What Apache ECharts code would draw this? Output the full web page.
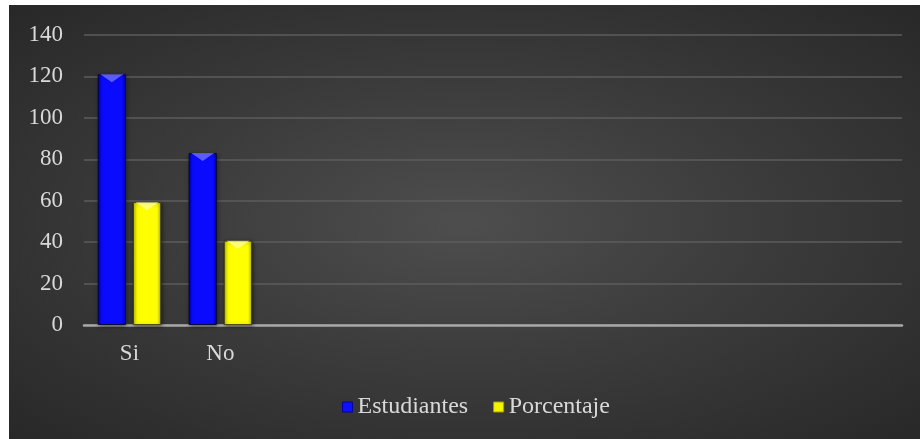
<!DOCTYPE html>
<html>
<head>
<meta charset="utf-8">
<script src="https://cdn.jsdelivr.net/npm/echarts@6/dist/echarts.min.js"></script>
<style>
  html, body { margin: 0; padding: 0; background: #ffffff; }
  #frame {
    position: absolute; left: 9px; top: 5px; width: 911px; height: 434px;
    background: radial-gradient(ellipse farthest-corner at 50% 50%, #4e4e4e 0%, #3c3c3c 45%, #282828 100%);
  }
  #chart { width: 911px; height: 434px; }
</style>
</head>
<body>
<div id="frame"><div id="chart"></div></div>
<script>
// Survey answers: number of students and share in percent
const categories = ['Si', 'No', '', '', '', '', '', '', ''];
const estudiantes = [121, 83, null, null, null, null, null, null, null];
const porcentaje = [59.3, 40.7, null, null, null, null, null, null, null];
const yTicks = { min: 0, max: 140, interval: 20 };

const textColor = '#d9d9d9';
const font = 'Liberation Serif';
const barWidth = '31%';
const barGap = '25%';

// horizontal shading that darkens the bar edges
function bevel(dark, bright) {
  return {
    type: 'linear', x: 0, y: 0, x2: 1, y2: 0,
    colorStops: [
      { offset: 0, color: dark },
      { offset: 0.14, color: bright },
      { offset: 0.86, color: bright },
      { offset: 1, color: dark }
    ]
  };
}

// light chevron drawn on the top face of each bar
function topFace(name, data, color) {
  return {
    name: name, type: 'pictorialBar', data: data,
    barWidth: barWidth, barGap: barGap,
    symbol: 'path://M0,0 L10,0 L5,4 Z',
    symbolSize: ['82%', 8],
    symbolPosition: 'end',
    symbolClip: false,
    itemStyle: { color: color },
    silent: true, z: 3
  };
}

const chart = echarts.init(document.getElementById('chart'), null, { renderer: 'canvas' });
chart.setOption({
  backgroundColor: 'transparent',
  animation: false,
  textStyle: { fontFamily: font },
  grid: { left: 75, right: 18, top: 30, bottom: 114, containLabel: false },
  legend: {
    left: 328, top: 385,
    itemWidth: 10, itemHeight: 10, itemGap: 25,
    textStyle: { color: textColor, fontSize: 24, fontFamily: font },
    data: [
      { name: 'Estudiantes', icon: 'rect', itemStyle: { color: '#1010ff', borderColor: '#0000a0', borderWidth: 1 } },
      { name: 'Porcentaje', icon: 'rect', itemStyle: { color: '#f4f400', borderColor: '#a0a000', borderWidth: 1 } }
    ]
  },
  xAxis: {
    type: 'category',
    data: categories,
    axisLine: { lineStyle: { color: '#a8a8a8', width: 2.5 } },
    axisTick: { show: false },
    axisLabel: { color: textColor, fontSize: 23, fontFamily: font, margin: 17 },
    splitLine: { show: false }
  },
  yAxis: {
    type: 'value',
    min: yTicks.min, max: yTicks.max, interval: yTicks.interval,
    axisLine: { show: false },
    axisTick: { show: false },
    axisLabel: { color: textColor, fontSize: 23, fontFamily: font, margin: 21 },
    splitLine: { lineStyle: { color: '#5c5c5c', width: 1.5 } }
  },
  series: [
    {
      name: 'Estudiantes', type: 'bar', data: estudiantes,
      barWidth: barWidth, barGap: barGap,
      itemStyle: {
        color: bevel('#0000b8', '#0a0aff'),
        borderColor: 'rgba(0,0,40,0.8)', borderWidth: 1,
        shadowColor: 'rgba(0,0,0,0.5)', shadowBlur: 4, shadowOffsetX: 1, shadowOffsetY: 1
      }
    },
    {
      name: 'Porcentaje', type: 'bar', data: porcentaje,
      barWidth: barWidth, barGap: barGap,
      itemStyle: {
        color: bevel('#b8b800', '#ffff00'),
        borderColor: 'rgba(60,60,0,0.8)', borderWidth: 1,
        shadowColor: 'rgba(0,0,0,0.5)', shadowBlur: 4, shadowOffsetX: 1, shadowOffsetY: 1
      }
    },
    topFace('Estudiantes', estudiantes, 'rgba(120,120,255,0.75)'),
    topFace('Porcentaje', porcentaje, 'rgba(255,255,170,0.7)')
  ]
});
</script>
</body>
</html>
